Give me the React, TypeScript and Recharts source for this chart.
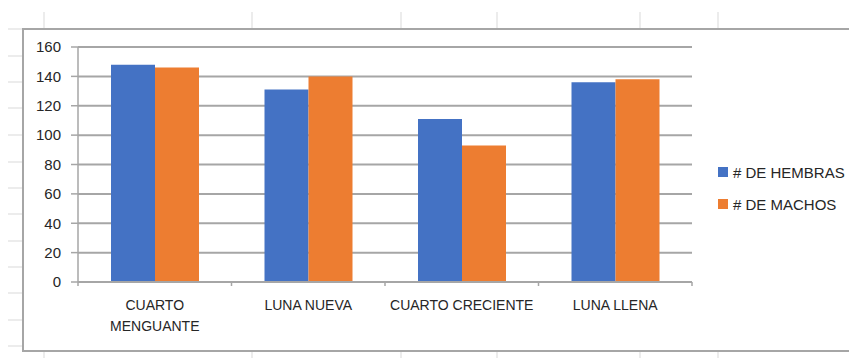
import { BarChart, Bar, XAxis, YAxis, CartesianGrid } from 'recharts';

// Observaciones por fase lunar
const categories = ['CUARTO MENGUANTE', 'LUNA NUEVA', 'CUARTO CRECIENTE', 'LUNA LLENA'];
const hembras = [148, 131, 111, 136];
const machos = [146, 140, 93, 138];
const yTicks = [0, 20, 40, 60, 80, 100, 120, 140, 160];
const seriesNames = ['# DE HEMBRAS', '# DE MACHOS'];
const seriesColors = ['#4472C4', '#ED7D31'];

const data = categories.map((name, i) => ({
  name,
  hembras: hembras[i],
  machos: machos[i],
}));

const WIDTH = 849;
const HEIGHT = 358;
const MARGIN = { top: 47, right: 157, bottom: 6, left: 18 };
const Y_AXIS_W = 60;
const PLOT_W = WIDTH - MARGIN.left - MARGIN.right - Y_AXIS_W;
const BAND = PLOT_W / categories.length;

const FONT = '"Liberation Sans", Arial, sans-serif';
const TEXT_COLOR = '#262626';
const LINE_COLOR = '#a6a6a6';
const SHEET_COLOR = '#d9d9d9';
const LABEL_SIZE = 14;
const LABEL_MAX_W = 148;

// spreadsheet cell borders showing around the chart object
const sheetCols = [44, 252, 401, 497, 640, 718];
const sheetRows = [29, 56, 82, 108, 135, 162, 188, 214, 241, 267, 293, 320, 346];

let measureCtx: CanvasRenderingContext2D | null = null;
const textWidth = (s: string) => {
  if (!measureCtx) {
    measureCtx = document.createElement('canvas').getContext('2d');
  }
  if (!measureCtx) return s.length * LABEL_SIZE * 0.6;
  measureCtx.font = `${LABEL_SIZE}px ${FONT}`;
  return measureCtx.measureText(s).width;
};

// greedy word wrap, like Excel does for category labels
const wrapLabel = (label: string) => {
  const lines: string[] = [];
  let cur = '';
  label.split(' ').forEach((w) => {
    const next = cur ? `${cur} ${w}` : w;
    if (cur && textWidth(next) > LABEL_MAX_W) {
      lines.push(cur);
      cur = w;
    } else {
      cur = next;
    }
  });
  if (cur) lines.push(cur);
  return lines;
};

// category label with tick marks on the band edges
const CategoryTick = (props: any) => {
  const { x, y, payload, index } = props;
  const left = x - BAND / 2;
  const right = x + BAND / 2;
  const lines = wrapLabel(String(payload.value));
  return (
    <g>
      <line x1={left} y1={y} x2={left} y2={y + 4} stroke={LINE_COLOR} strokeWidth={1.5} />
      {index === categories.length - 1 && (
        <line x1={right} y1={y} x2={right} y2={y + 4} stroke={LINE_COLOR} strokeWidth={1.5} />
      )}
      <text
        x={x}
        y={y + 28}
        textAnchor="middle"
        fill={TEXT_COLOR}
        style={{ fontSize: LABEL_SIZE, fontFamily: FONT }}
      >
        {lines.map((l, i) => (
          <tspan key={i} x={x} dy={i === 0 ? 0 : 21}>
            {l}
          </tspan>
        ))}
      </text>
    </g>
  );
};

export default function App() {
  return (
    <div
      style={{
        position: 'absolute',
        left: 0,
        top: 0,
        width: WIDTH,
        height: HEIGHT,
        background: '#fff',
        overflow: 'hidden',
        fontFamily: FONT,
      }}
    >
      <svg width={WIDTH} height={HEIGHT} style={{ position: 'absolute', left: 0, top: 0 }}>
        {sheetCols.map((cx) => (
          <g key={`c-${cx}`}>
            <line x1={cx} y1={12} x2={cx} y2={29} stroke={SHEET_COLOR} strokeWidth={1} />
            <line x1={cx} y1={350} x2={cx} y2={358} stroke={SHEET_COLOR} strokeWidth={1} />
          </g>
        ))}
        {sheetRows.map((ry) => (
          <line key={`r-${ry}`} x1={8} y1={ry} x2={23} y2={ry} stroke={SHEET_COLOR} strokeWidth={1} />
        ))}
      </svg>

      {/* chart object frame */}
      <div
        style={{
          position: 'absolute',
          left: 22,
          top: 28,
          width: WIDTH,
          height: 320,
          borderTop: `2px solid ${LINE_COLOR}`,
          borderLeft: `2px solid ${LINE_COLOR}`,
          borderBottom: `2px solid ${LINE_COLOR}`,
          background: '#fff',
        }}
      />

      <div style={{ position: 'absolute', left: 0, top: 0 }}>
        <BarChart
          width={WIDTH}
          height={HEIGHT}
          data={data}
          margin={MARGIN}
          barCategoryGap="21.5%"
          barGap={0}
        >
          <CartesianGrid vertical={false} stroke={LINE_COLOR} strokeWidth={2} />
          <XAxis
            dataKey="name"
            height={70}
            interval={0}
            tickLine={false}
            tickSize={0}
            tickMargin={0}
            axisLine={{ stroke: LINE_COLOR, strokeWidth: 2 }}
            tick={<CategoryTick />}
          />
          <YAxis
            width={Y_AXIS_W}
            domain={[0, 160]}
            ticks={yTicks}
            interval={0}
            tickSize={7}
            tickMargin={10}
            axisLine={{ stroke: LINE_COLOR, strokeWidth: 1.5 }}
            tickLine={{ stroke: LINE_COLOR, strokeWidth: 1.5 }}
            tick={{ fill: TEXT_COLOR, fontSize: 15, fontFamily: FONT }}
          />
          <Bar dataKey="hembras" name={seriesNames[0]} fill={seriesColors[0]} isAnimationActive={false} />
          <Bar dataKey="machos" name={seriesNames[1]} fill={seriesColors[1]} isAnimationActive={false} />
        </BarChart>
      </div>

      {/* legend */}
      <div style={{ position: 'absolute', left: 718, top: 162 }}>
        {seriesNames.map((n, i) => (
          <div
            key={n}
            style={{ display: 'flex', alignItems: 'center', height: 20, marginBottom: 12 }}
          >
            <span
              style={{
                display: 'inline-block',
                width: 10,
                height: 10,
                background: seriesColors[i],
                marginRight: 5,
              }}
            />
            <span style={{ fontSize: 15, color: TEXT_COLOR, whiteSpace: 'nowrap' }}>{n}</span>
          </div>
        ))}
      </div>
    </div>
  );
}
